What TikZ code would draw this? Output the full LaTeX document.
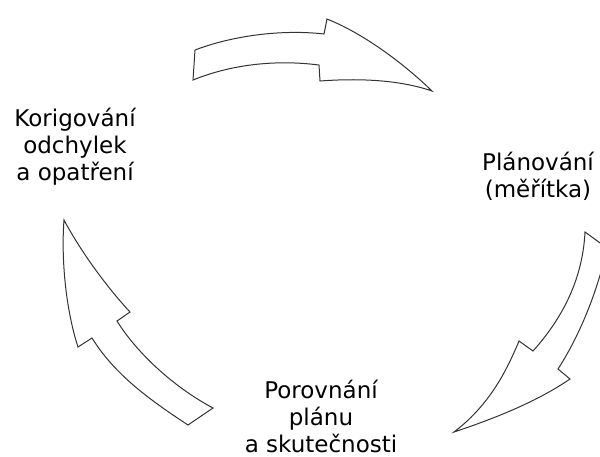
\documentclass[tikz,border=0pt]{standalone}
\usepackage{fontspec}
\setmainfont{DejaVu Sans}
\begin{document}
\begin{tikzpicture}[x=1pt,y=-1pt,
  arrowshape/.style={draw=black!80, fill=white, line width=1pt, line join=miter},
  lbl/.style={align=center, inner sep=0pt, anchor=base, font=\fontsize{23}{27}\selectfont}]
\useasboundingbox (0,0) rectangle (600,456);
\clip (0,0) rectangle (600,456);
% top arrow
\draw[arrowshape] (193,80) -- (195,50)
  .. controls (240,33) and (290,30) .. (324,34)
  -- (327,19)
  .. controls (360,32) and (400,60) .. (432,91)
  .. controls (400,80) and (360,78) .. (320,81)
  -- (319,65)
  .. controls (280,60) and (235,63) .. (193,80) -- cycle;
% right arrow
\draw[arrowshape] (585,232) -- (607,248)
  .. controls (598,290) and (580,335) .. (558,369)
  -- (570,379)
  .. controls (535,403) and (490,420) .. (454,432)
  .. controls (487,407) and (505,375) .. (519,341)
  -- (533,351)
  .. controls (568,312) and (583,272) .. (585,232) -- cycle;
% left arrow
\draw[arrowshape] (64,220)
  .. controls (80,250) and (105,285) .. (130,312)
  -- (117,321)
  .. controls (135,350) and (170,385) .. (213,408)
  -- (188,425)
  .. controls (150,400) and (115,375) .. (92,338)
  -- (78,347)
  .. controls (66,310) and (61,260) .. (64,220) -- cycle;
\node[lbl] (korig) at (75,180) {Korigování\\odchylek\\a opatření};
\node[lbl] (plan) at (538,197) {Plánování\\(měřítka)};
\node[lbl] (porov) at (321,452) {Porovnání\\plánu\\a skutečnosti};
\end{tikzpicture}
\end{document}
